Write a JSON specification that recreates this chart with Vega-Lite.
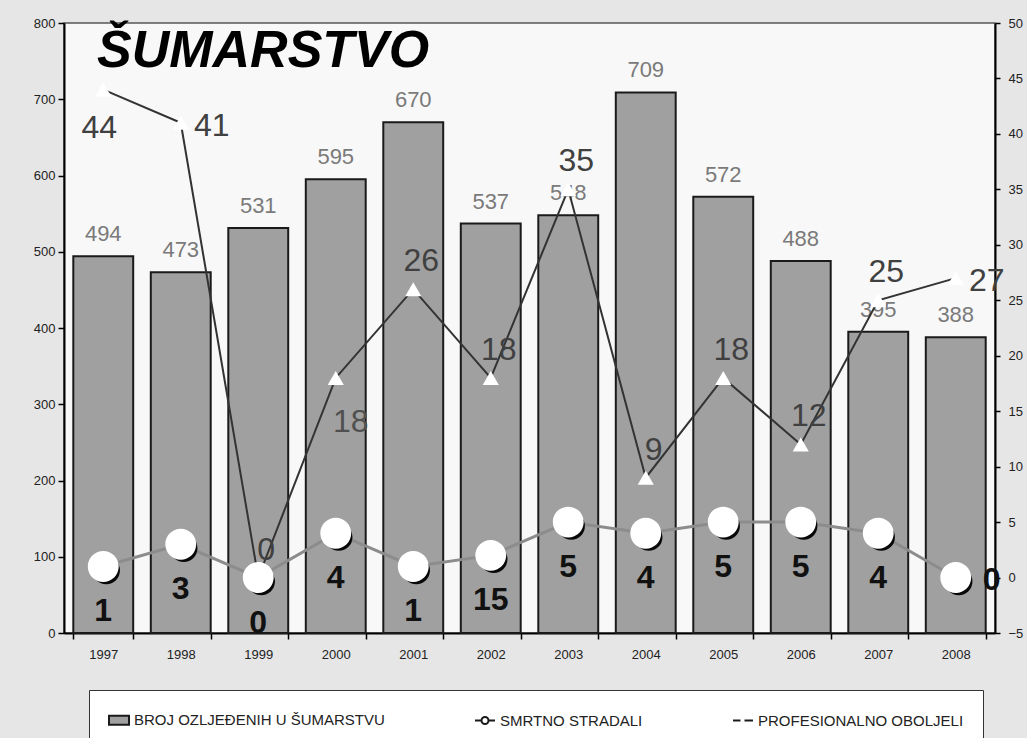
{
  "$schema": "https://vega.github.io/schema/vega-lite/v6.json",
  "width": 931,
  "height": 610,
  "autosize": {"type": "none"},
  "padding": {"left": 64, "top": 23, "right": 32, "bottom": 105},
  "background": "#e6e6e6",
  "config": {
    "view": {"stroke": "#555", "strokeWidth": 1.5, "fill": "#f8f8f8"},
    "axis": {"grid": false, "title": null, "labelFont": "Liberation Sans, sans-serif", "labelFontSize": 13, "labelColor": "#222", "domainColor": "#000", "domainWidth": 2, "tickColor": "#000", "tickWidth": 1.5}
  },
  "title": {"text": "ŠUMARSTVO", "anchor": "start", "frame": "group", "offset": 0, "dx": 33, "dy": 102, "baseline": "alphabetic", "fontSize": 52, "fontStyle": "italic", "fontWeight": "bold", "font": "Liberation Sans, sans-serif", "color": "#000"},
  "data": {"values": [
    {"year": "1997", "broj": 494, "smrtno": 1, "smrtno_oznaka": "1", "prof": 44},
    {"year": "1998", "broj": 473, "smrtno": 3, "smrtno_oznaka": "3", "prof": 41},
    {"year": "1999", "broj": 531, "smrtno": 0, "smrtno_oznaka": "0", "prof": 0},
    {"year": "2000", "broj": 595, "smrtno": 4, "smrtno_oznaka": "4", "prof": 18},
    {"year": "2001", "broj": 670, "smrtno": 1, "smrtno_oznaka": "1", "prof": 26},
    {"year": "2002", "broj": 537, "smrtno": 2, "smrtno_oznaka": "15", "prof": 18},
    {"year": "2003", "broj": 548, "smrtno": 5, "smrtno_oznaka": "5", "prof": 35},
    {"year": "2004", "broj": 709, "smrtno": 4, "smrtno_oznaka": "4", "prof": 9},
    {"year": "2005", "broj": 572, "smrtno": 5, "smrtno_oznaka": "5", "prof": 18},
    {"year": "2006", "broj": 488, "smrtno": 5, "smrtno_oznaka": "5", "prof": 12},
    {"year": "2007", "broj": 395, "smrtno": 4, "smrtno_oznaka": "4", "prof": 25},
    {"year": "2008", "broj": 388, "smrtno": 0, "smrtno_oznaka": "0", "prof": 27}
  ]},
  "encoding": {
    "x": {"field": "year", "type": "nominal", "sort": null,
      "scale": {"paddingInner": 0.227, "paddingOuter": 0.12},
      "axis": {"labelAngle": 0, "tickBand": "extent", "tickSize": 6, "labelPadding": 9}}
  },
  "layer": [
    {
      "encoding": {
        "y": {"field": "broj", "type": "quantitative", "scale": {"domain": [0, 800]},
          "axis": {"orient": "left", "values": [0, 100, 200, 300, 400, 500, 600, 700, 800], "tickSize": 6, "labelPadding": 3}}
      },
      "layer": [
        {
          "mark": {"type": "bar", "stroke": "#1a1a1a", "strokeWidth": 2},
          "encoding": {
            "color": {"datum": "BROJ OZLJEĐENIH U ŠUMARSTVU",
              "scale": {"domain": ["BROJ OZLJEĐENIH U ŠUMARSTVU", "SMRTNO STRADALI", "PROFESIONALNO OBOLJELI"], "range": ["#a0a0a0", "#ffffff", "#333333"]},
              "legend": {
                "title": null, "orient": "none", "legendX": 25, "legendY": 667, "direction": "horizontal",
                "fillColor": "#ffffff", "strokeColor": "#333", "padding": 19,
                "labelFont": "Liberation Sans, sans-serif", "labelFontSize": 15, "labelColor": "#222",
                "symbolSize": 400, "symbolStrokeWidth": 2, "symbolOpacity": 1, "columnPadding": 86, "labelOffset": 4, "labelLimit": 400
              }
            }
          }
        },
        {
          "mark": {"type": "text", "baseline": "alphabetic", "dy": -15, "font": "Liberation Sans, sans-serif", "fontSize": 22, "color": "#7a7a7a"},
          "encoding": {"text": {"field": "broj", "type": "quantitative"}}
        }
      ]
    },
    {
      "encoding": {
        "y": {"field": "smrtno", "type": "quantitative", "scale": {"domain": [-5, 50]},
          "axis": {"orient": "right", "values": [-5, 0, 5, 10, 15, 20, 25, 30, 35, 40, 45, 50], "tickSize": 5, "labelPadding": 8}}
      },
      "layer": [
        {
          "mark": {"type": "line", "strokeWidth": 3, "color": "#8c8c8c"},
          "encoding": {}
        },
        {
          "mark": {"type": "line", "strokeWidth": 2, "color": "#333333"},
          "encoding": {"y": {"field": "prof", "type": "quantitative"}}
        },
        {
          "mark": {"type": "point", "shape": "circle", "filled": true, "size": 750, "color": "#000", "opacity": 0.95, "xOffset": 3, "yOffset": 4},
          "encoding": {}
        },
        {
          "mark": {"type": "point", "filled": true, "size": 7800, "color": "#ffffff", "opacity": 1},
          "encoding": {
            "shape": {"datum": "SMRTNO STRADALI",
              "scale": {"domain": ["BROJ OZLJEĐENIH U ŠUMARSTVU", "SMRTNO STRADALI", "PROFESIONALNO OBOLJELI"],
                "range": ["M-1,-0.45H1V0.45H-1Z", "M-1,0H-0.35M0.35,0H1M0.35,0A0.35,0.35 0 1 1 -0.35,0A0.35,0.35 0 1 1 0.35,0Z", "M-1,0H-0.25M0.15,0H1"]}}
          }
        },
        {
          "mark": {"type": "point", "shape": "triangle-up", "filled": true, "size": 260, "color": "#ffffff", "opacity": 1},
          "encoding": {"y": {"field": "prof", "type": "quantitative"}}
        },
        {
          "transform": [{"filter": {"field": "year", "oneOf": ["1999", "2001", "2002", "2003", "2004", "2005", "2006", "2007"]}}],
          "mark": {"type": "text", "baseline": "alphabetic", "dx": 8, "dy": -18, "font": "Liberation Sans, sans-serif", "fontSize": 32, "color": "#404040"},
          "encoding": {"y": {"field": "prof", "type": "quantitative"}, "text": {"field": "prof", "type": "quantitative"}}
        },
        {
          "transform": [{"filter": {"field": "year", "oneOf": ["1998", "2008"]}}],
          "mark": {"type": "text", "baseline": "alphabetic", "dx": 31, "dy": 13, "font": "Liberation Sans, sans-serif", "fontSize": 32, "color": "#404040"},
          "encoding": {"y": {"field": "prof", "type": "quantitative"}, "text": {"field": "prof", "type": "quantitative"}}
        },
        {
          "transform": [{"filter": {"field": "year", "oneOf": ["1997"]}}],
          "mark": {"type": "text", "baseline": "alphabetic", "dx": -4, "dy": 48, "font": "Liberation Sans, sans-serif", "fontSize": 32, "color": "#404040"},
          "encoding": {"y": {"field": "prof", "type": "quantitative"}, "text": {"field": "prof", "type": "quantitative"}}
        },
        {
          "transform": [{"filter": {"field": "year", "oneOf": ["2000"]}}],
          "mark": {"type": "text", "baseline": "alphabetic", "dx": 15, "dy": 54, "font": "Liberation Sans, sans-serif", "fontSize": 32, "color": "#505050"},
          "encoding": {"y": {"field": "prof", "type": "quantitative"}, "text": {"field": "prof", "type": "quantitative"}}
        },
        {
          "transform": [{"filter": {"field": "year", "oneOf": ["1997", "1998", "1999", "2000", "2001", "2002", "2003", "2004", "2005", "2006", "2007"]}}],
          "mark": {"type": "text", "baseline": "alphabetic", "dy": 55, "font": "Liberation Sans, sans-serif", "fontSize": 32, "fontWeight": "bold", "color": "#111"},
          "encoding": {"text": {"field": "smrtno_oznaka", "type": "nominal"}}
        },
        {
          "transform": [{"filter": {"field": "year", "oneOf": ["2008"]}}],
          "mark": {"type": "text", "baseline": "alphabetic", "dx": 36, "dy": 12, "font": "Liberation Sans, sans-serif", "fontSize": 32, "fontWeight": "bold", "color": "#111"},
          "encoding": {"text": {"field": "smrtno_oznaka", "type": "nominal"}}
        }
      ]
    }
  ],
  "resolve": {"scale": {"y": "independent"}}
}
